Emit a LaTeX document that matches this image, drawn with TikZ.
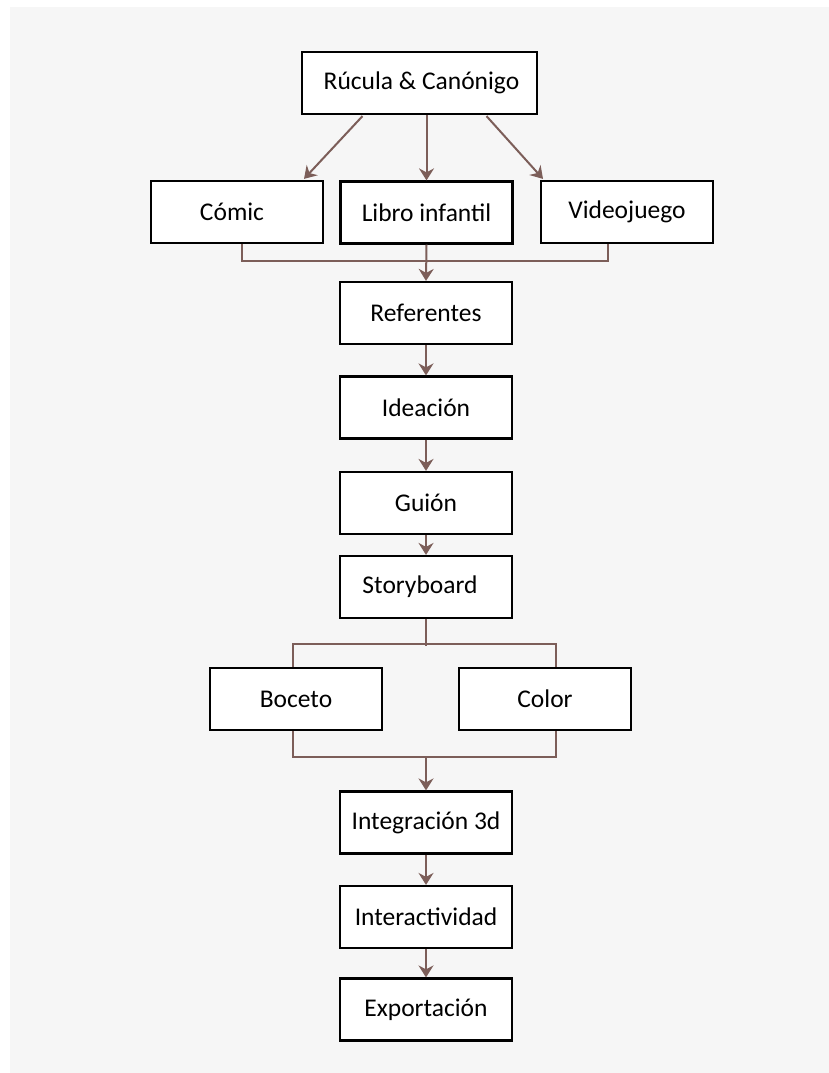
\documentclass[tikz,border=0pt]{standalone}
\usepackage{fontspec}
\setmainfont{Carlito}
\usetikzlibrary{arrows.meta,calc}
\definecolor{bggray}{RGB}{246,246,246}
\definecolor{conn}{RGB}{124,94,89}
\tikzset{
  box/.style={draw=black, fill=white, line width=2.2pt, minimum width=172pt, minimum height=62pt, inner sep=0pt, font=\fontsize{25.5}{29}\selectfont, anchor=center},
  link/.style={draw=conn, line width=2pt},
  arr/.style={link, -{Stealth[length=12pt,width=15pt,inset=4pt]}}
}
\begin{document}
\begin{tikzpicture}[x=1pt,y=-1pt]
\useasboundingbox (0,0) rectangle (829,1073);
\fill[white] (0,0) rectangle (829,1073);
\fill[bggray] (10,7) rectangle (829,1073);

\node[box, minimum width=235pt] (ruc) at (419.5,83) {\hspace*{4pt}Rúcula \& Canónigo};
\node[box] (comic) at (237,212) {\hspace*{-10pt}Cómic};
\node[box] (libro) at (426.5,212.5) {Libro infantil};
\node[box] (video) at (627,212) {Videojuego};
\node[box] (ref) at (426,313) {Referentes};
\node[box] (idea) at (426,407.5) {Ideación};
\node[box] (guion) at (426,503) {Guión};
\node[box] (story) at (426,587) {\hspace*{-12pt}Storyboard};
\node[box] (boceto) at (296,699) {Boceto};
\node[box] (color) at (545,699) {Color};
\node[box] (integ) at (426,822.5) {Integración 3d};
\node[box] (inter) at (426,917) {Interactividad};
\node[box] (export) at (426,1009.5) {Exportación};

% top fan-out
\draw[arr] ($(ruc.south)+(-57,1)$) -- ($(comic.north)+(67,-1)$);
\draw[arr] (libro.north |- ruc.south) -- (libro.north);
\draw[arr] ($(ruc.south)+(67,1)$) -- ($(video.north)+(-84,-1)$);

% merge into Referentes
\coordinate (m1) at ($(comic.south)+(5,17)$);
\coordinate (m2) at ($(video.south)+(-19,17)$);
\draw[link] ($(comic.south)+(5,0)$) -- (m1) -- (m2) -- ($(video.south)+(-19,0)$);
\draw[arr] (libro.south) -- (ref.north);

\draw[arr] (ref.south) -- (idea.north);
\draw[arr] (idea.south) -- (guion.north);
\draw[arr] (guion.south) -- (story.north);

% fork to Boceto / Color
\coordinate (f0) at ($(story.south)+(0,27)$);
\coordinate (f1) at ($(boceto.north)+(-3,-23)$);
\coordinate (f2) at ($(color.north)+(11,-23)$);
\draw[link] (story.south) -- (f0);
\draw[link] ($(boceto.north)+(-3,0)$) -- (f1) -- (f2) -- ($(color.north)+(11,0)$);

% merge to Integración
\coordinate (g1) at ($(boceto.south)+(-3,26)$);
\coordinate (g2) at ($(color.south)+(11,26)$);
\draw[link] ($(boceto.south)+(-3,0)$) -- (g1) -- (g2) -- ($(color.south)+(11,0)$);
\draw[arr] (integ.north |- g1) -- (integ.north);

\draw[arr] (integ.south) -- (inter.north);
\draw[arr] (inter.south) -- (export.north);
\end{tikzpicture}
\end{document}
